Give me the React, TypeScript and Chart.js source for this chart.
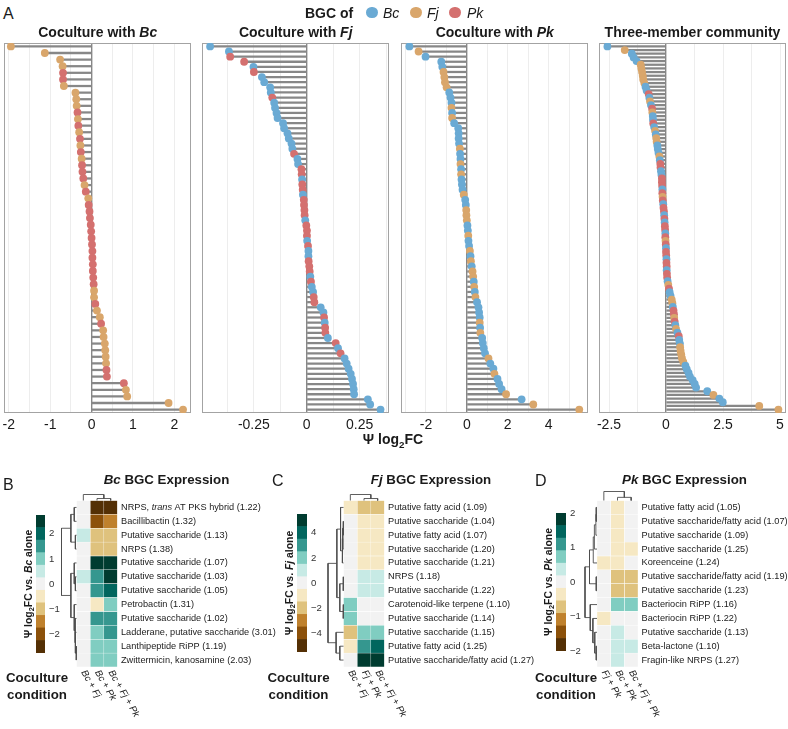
import React, { useEffect, useRef } from 'react';
import { Chart, registerables } from 'chart.js';

Chart.register(...registerables);

const FONT = "'Liberation Sans', Arial, Helvetica, sans-serif";
const INK = '#1a1a1a';
const SPECIES_COLORS: Record<string, string> = { B: '#6aaad4', F: '#d9a66b', P: '#d4706f' };
const BRBG = ['#543005', '#8c510a', '#bf812d', '#dfc27d', '#f6e8c3', '#f2f2f2', '#c7eae5', '#80cdc1', '#35978f', '#01665e', '#003c30'];

// ---------------- Panel A data (sorted rows, top to bottom) ----------------
const BC_VALUES = [
  -1.95, -1.13, -0.76, -0.70, -0.69, -0.69, -0.67, -0.39, -0.37, -0.36,
  -0.34, -0.33, -0.32, -0.30, -0.28, -0.27, -0.26, -0.24, -0.23, -0.22,
  -0.20, -0.17, -0.14, -0.08, -0.07, -0.05, -0.04, -0.02, -0.01, 0.00,
  0.01, 0.02, 0.02, 0.03, 0.03, 0.04, 0.05, 0.06, 0.06, 0.09,
  0.13, 0.20, 0.23, 0.28, 0.29, 0.32, 0.33, 0.34, 0.35, 0.36,
  0.37, 0.78, 0.83, 0.86, 1.86, 2.21,
];
const BC_SPECIES = ('FFFFPPFFFF' + 'PFPFPFPFPP' + 'PFPFPPPPPP' + 'PPPPPPPFFP' + 'FFPFFFFFFP' + 'PPFFFF').split('');

const FJ_VALUES = [
  -0.457, -0.368, -0.362, -0.296, -0.252, -0.250, -0.212, -0.201, -0.173, -0.170,
  -0.163, -0.154, -0.150, -0.143, -0.138, -0.112, -0.107, -0.091, -0.085, -0.072,
  -0.068, -0.060, -0.044, -0.041, -0.025, -0.024, -0.022, -0.021, -0.019, -0.018,
  -0.014, -0.013, -0.011, -0.010, -0.007, -0.002, 0.001, 0.001, 0.002, 0.006,
  0.008, 0.008, 0.009, 0.012, 0.014, 0.017, 0.020, 0.024, 0.030, 0.033,
  0.036, 0.066, 0.079, 0.082, 0.085, 0.087, 0.088, 0.100, 0.137, 0.148,
  0.160, 0.179, 0.189, 0.198, 0.208, 0.214, 0.219, 0.222, 0.224, 0.289,
  0.300, 0.349,
];
const FJ_SPECIES = ('BBPPBPBBBB' + 'PBBBBBBBBB' + 'BPBBPPBPPB' + 'PPPPBPPPBP' + 'BBPPPBPBBP' + 'PBBPBPPBPB' + 'PBBBBBBBBB' + 'BB').split('');

const PK_VALUES = [
  -2.81, -2.36, -2.02, -1.25, -1.20, -1.14, -1.10, -1.07, -0.99, -0.86,
  -0.80, -0.75, -0.75, -0.72, -0.72, -0.62, -0.42, -0.40, -0.40, -0.38,
  -0.34, -0.33, -0.31, -0.31, -0.28, -0.28, -0.26, -0.24, -0.21, -0.15,
  -0.08, -0.05, -0.03, -0.02, 0.00, 0.03, 0.05, 0.07, 0.08, 0.11,
  0.15, 0.18, 0.20, 0.24, 0.28, 0.31, 0.34, 0.36, 0.39, 0.42,
  0.50, 0.57, 0.60, 0.63, 0.63, 0.65, 0.66, 0.75, 0.78, 0.83,
  0.89, 1.06, 1.15, 1.30, 1.35, 1.50, 1.58, 1.70, 1.92, 2.68,
  3.25, 5.50,
];
const PK_SPECIES = ('BFBBBFFFFB' + 'BBFBFBBBBB' + 'FBBFBFBBBF' + 'BBFFFBBFBB' + 'FBFBFFBFBF' + 'BBBBFBFBBB' + 'BFBBFBBBFB' + 'FF').split('');

const TRI_VALUES = [
  -2.57, -1.81, -1.50, -1.42, -1.29, -1.11, -1.08, -1.05, -1.02, -1.00,
  -0.95, -0.90, -0.85, -0.76, -0.73, -0.70, -0.66, -0.61, -0.60, -0.58,
  -0.57, -0.56, -0.52, -0.48, -0.45, -0.43, -0.41, -0.38, -0.36, -0.33,
  -0.29, -0.27, -0.25, -0.24, -0.22, -0.20, -0.18, -0.18, -0.17, -0.16,
  -0.16, -0.15, -0.14, -0.12, -0.11, -0.09, -0.08, -0.07, -0.06, -0.05,
  -0.04, -0.03, -0.03, -0.02, -0.01, 0.00, 0.00, 0.01, 0.02, 0.02,
  0.03, 0.03, 0.04, 0.05, 0.07, 0.10, 0.13, 0.16, 0.20, 0.25,
  0.28, 0.30, 0.33, 0.35, 0.36, 0.38, 0.41, 0.44, 0.50, 0.56,
  0.58, 0.61, 0.62, 0.64, 0.67, 0.70, 0.76, 0.85, 0.91, 0.99,
  1.05, 1.17, 1.26, 1.32, 1.81, 2.08, 2.34, 2.49, 4.09, 4.93,
];
const TRI_SPECIES = ('BFBBBFFFFF' + 'FBBPBFBPFB' + 'BPBFBFFBBB' + 'FBPPBBPPPB' + 'PFPBPPBPBP' + 'PBPFPBPPBP' + 'PBPPBFPBBF' + 'FBPPFPBFBP' + 'BBFFFFFBBB' + 'BBBBBFBBFF').split('');

// ---------------- Panels B-D data ----------------
const B_ROWS = [
  'NRPS, *trans* AT PKS hybrid (1.22)', 'Bacillibactin (1.32)', 'Putative saccharide (1.13)', 'NRPS (1.38)',
  'Putative saccharide (1.07)', 'Putative saccharide (1.03)', 'Putative saccharide (1.05)', 'Petrobactin (1.31)',
  'Putative saccharide (1.02)', 'Ladderane, putative saccharide (3.01)', 'Lanthipeptide RiPP (1.19)', 'Zwittermicin, kanosamine (2.03)',
];
const B_COLS = ['*Bc* + *Fj*', '*Bc* + *Pk*', '*Bc* + *Fj* + *Pk*'];
const B_VALUES = [
  [0, -2.5, -2.5], [0, -2.0, -1.5], [0.5, -1.0, -1.0], [0, -1.0, -1.0],
  [0, 2.5, 2.5], [0.5, 1.5, 2.5], [0, 1.5, 2.0], [0, -0.5, 1.0],
  [0, 1.5, 1.5], [0, 1.0, 1.5], [0, 1.0, 1.0], [0, 1.0, 1.0],
];
const B_ROW_MERGES = [[-3, -4, 0.3], [-1, -2, 0.6], [2, 1, 1.5], [-6, -7, 0.3], [-5, 4, 0.6], [-11, -12, 0.1], [-10, 6, 0.3], [-9, 7, 0.4], [-8, 8, 0.6], [5, 9, 1.5], [3, 10, 4]];
const B_COL_MERGES = [[-2, -3, 0.33], [-1, 1, 1]];
const B_RANGE = [-2.75, 2.75];
const B_TICKS = [2, 1, 0, -1, -2];

const C_ROWS = [
  'Putative fatty acid (1.09)', 'Putative saccharide (1.04)', 'Putative fatty acid (1.07)', 'Putative saccharide (1.20)',
  'Putative saccharide (1.21)', 'NRPS (1.18)', 'Putative saccharide (1.22)', 'Carotenoid-like terpene (1.10)',
  'Putative saccharide (1.14)', 'Putative saccharide (1.15)', 'Putative fatty acid (1.25)', 'Putative saccharide/fatty acid (1.27)',
];
const C_COLS = ['*Bc* + *Fj*', '*Fj* + *Pk*', '*Bc* + *Fj* + *Pk*'];
const C_VALUES = [
  [-1, -2, -2], [0, -1, -1], [0, -1, -1], [0, -1, -1],
  [0, -1, -1], [0, 1, 1], [0, 1, 1], [2, 0, 0],
  [2, 0, 0], [-2, 2, 2], [-1, 3, 4], [0, 5, 5],
];
const C_ROW_MERGES = [[-2, -3, 0.1], [1, -4, 0.2], [2, -5, 0.3], [-1, 3, 0.8], [-6, -7, 0.1], [-8, -9, 0.1], [5, 6, 1.0], [4, 7, 1.8], [-11, -12, 1.0], [-10, 9, 2.0], [8, 10, 4.2]];
const C_COL_MERGES = [[-2, -3, 0.33], [-1, 1, 1]];
const C_RANGE = [-5.5, 5.5];
const C_TICKS = [4, 2, 0, -2, -4];

const D_ROWS = [
  'Putative fatty acid (1.05)', 'Putative saccharide/fatty acid (1.07)', 'Putative saccharide (1.09)', 'Putative saccharide (1.25)',
  'Koreenceine (1.24)', 'Putative saccharide/fatty acid (1.19)', 'Putative saccharide (1.23)', 'Bacteriocin RiPP (1.16)',
  'Bacteriocin RiPP (1.22)', 'Putative saccharide (1.13)', 'Beta-lactone (1.10)', 'Fragin-like NRPS (1.27)',
];
const D_COLS = ['*Fj* + *Pk*', '*Bc* + *Pk*', '*Bc* + *Fj* + *Pk*'];
const D_VALUES = [
  [0, -0.35, 0], [0, -0.35, 0], [0, -0.35, 0], [0, -0.35, -0.35],
  [-0.35, -0.35, 0], [0, -0.7, -0.7], [0, -0.7, -0.7], [0, 0.7, 0.7],
  [-0.35, 0, 0], [0, 0.35, 0], [0, 0.35, 0.35], [0, 0.35, 0],
];
const D_ROW_MERGES = [[-1, -2, 0.1], [-3, 1, 0.15], [-4, 2, 0.35], [-6, -7, 0.1], [-5, 3, 0.5], [5, 4, 1.0], [-11, -12, 0.1], [-10, 7, 0.3], [-9, 8, 0.55], [-8, 9, 0.9], [6, 10, 1.6]];
const D_COL_MERGES = [[-2, -3, 0.35], [-1, 1, 1]];
const D_RANGE = [-2, 2];
const D_TICKS = [2, 1, 0, -1, -2];

// ---------------- helpers ----------------
type Seg = { t: string; i?: boolean; sub?: boolean };
const parseStars = (s: string): Seg[] => s.split('*').map((t, k) => ({ t, i: k % 2 === 1 })).filter((p) => p.t.length > 0);
const fontOf = (seg: Seg, size: number, bold: boolean) =>
  `${seg.i ? 'italic ' : ''}${bold ? 'bold ' : ''}${seg.sub ? size * 0.72 : size}px ${FONT}`;

function drawRich(ctx: CanvasRenderingContext2D, segs: Seg[], x: number, y: number, size: number, bold: boolean, color: string, align: 'left' | 'center') {
  ctx.save();
  ctx.fillStyle = color;
  ctx.textBaseline = 'middle';
  ctx.textAlign = 'left';
  const widths = segs.map((s) => { ctx.font = fontOf(s, size, bold); return ctx.measureText(s.t).width; });
  const total = widths.reduce((a, b) => a + b, 0);
  let cx = align === 'center' ? x - total / 2 : x;
  segs.forEach((s, k) => {
    ctx.font = fontOf(s, size, bold);
    ctx.fillText(s.t, cx, s.sub ? y + size * 0.28 : y);
    cx += widths[k];
  });
  ctx.restore();
}

const binColor = (v: number, range: number[]) => {
  const k = Math.floor(((v - range[0]) / (range[1] - range[0])) * BRBG.length);
  return BRBG[Math.max(0, Math.min(BRBG.length - 1, k))];
};

// dendrogram polylines from hclust-style merges: [height, position] pairs
function dendro(merges: number[][]) {
  const pos: number[] = [];
  const hgt: number[] = [];
  const get = (id: number) => (id < 0 ? { p: -id - 1 + 0.5, h: 0 } : { p: pos[id - 1], h: hgt[id - 1] });
  return merges.map(([a, b, h], k) => {
    const A = get(a), B = get(b);
    pos[k] = (A.p + B.p) / 2;
    hgt[k] = h;
    return [[A.h, A.p], [h, A.p], [h, B.p], [B.h, B.p]];
  });
}

const fmt = (v: number) => String(+v.toFixed(4));
const isZero = (v: any) => typeof v === 'number' && Math.abs(v) < 1e-9;

const framePlugin = {
  id: 'frame',
  beforeDatasetsDraw(chart: any) {
    const { ctx, chartArea: a } = chart;
    ctx.save();
    ctx.strokeStyle = '#a3a3a3';
    ctx.lineWidth = 1;
    ctx.strokeRect(a.left + 0.5, a.top + 0.5, a.right - a.left - 1, a.bottom - a.top - 1);
    ctx.restore();
  },
};

// ---------------- Lollipop chart ----------------
const A_TOP = 43;
const A_BOTTOM = 413;
const AXIS_H = 14 * 1.2 + 2 * 4;

function Lollipop(p: any) {
  const ref = useRef<HTMLCanvasElement>(null);
  const box = { x: p.left - 8, y: 36, w: p.right - p.left + 16, h: 405 };
  useEffect(() => {
    const n = p.values.length;
    const padPx = 3.4;
    const spacing = (A_BOTTOM - A_TOP - 2 * padPx) / (n - 1);
    const pad = padPx / spacing;
    const pts = p.values.map((v: number, i: number) => ({ x: v, y: i }));
    const grid: number[] = [];
    for (let k = Math.ceil(p.xMin / p.gridStep - 1e-9); k * p.gridStep <= p.xMax + 1e-9; k++) grid.push(+(k * p.gridStep).toFixed(6));
    const chart = new Chart(ref.current as HTMLCanvasElement, {
      type: 'scatter',
      data: {
        datasets: [
          { type: 'scatter', data: pts, pointRadius: 3.9, pointHoverRadius: 3.9, pointBackgroundColor: p.species.map((s: string) => SPECIES_COLORS[s]), pointBorderWidth: 0, pointBorderColor: 'rgba(0,0,0,0)', order: 0 } as any,
          { type: 'bar', data: pts, indexAxis: 'y', backgroundColor: '#878787', barThickness: 1.6, order: 1 } as any,
        ],
      },
      options: {
        animation: false,
        responsive: false,
        events: [],
        layout: { padding: { left: p.left - box.x, right: box.x + box.w - p.right, top: A_TOP - box.y, bottom: box.y + box.h - A_BOTTOM - AXIS_H } },
        plugins: { legend: { display: false }, tooltip: { enabled: false } },
        scales: {
          x: {
            type: 'linear', min: p.xMin, max: p.xMax, offset: false,
            afterBuildTicks: (s: any) => { s.ticks = grid.map((v) => ({ value: v })); },
            ticks: {
              autoSkip: false, maxRotation: 0, padding: 4, color: INK, font: { family: FONT, size: 14 },
              callback: (v: any) => { const q = v / p.labelStep; return Math.abs(q - Math.round(q)) < 1e-6 ? fmt(v) : ''; },
            },
            grid: {
              drawTicks: false,
              color: (c: any) => (isZero(c.tick && c.tick.value) ? '#878787' : '#ebebeb'),
              lineWidth: (c: any) => (isZero(c.tick && c.tick.value) ? 1.4 : 0.9),
            },
            border: { display: false },
          } as any,
          y: { type: 'linear', reverse: true, min: -pad, max: n - 1 + pad, display: false, offset: false } as any,
        },
      } as any,
      plugins: [framePlugin as any],
    });
    return () => chart.destroy();
  }, []);
  return <canvas ref={ref} width={box.w} height={box.h} style={{ position: 'absolute', left: box.x, top: box.y }} />;
}

// ---------------- Heatmap with dendrograms ----------------
function Heatmap(p: any) {
  const ref = useRef<HTMLCanvasElement>(null);
  const g = p.geo;
  const box = g.box;
  useEffect(() => {
    const nR = p.values.length;
    const nC = p.values[0].length;
    const colW = (g.hr - g.hl) / nC;
    const rowH = (g.hb - g.ht) / nR;
    const rowDendW = (g.hl - g.dl) / colW;
    const colDendH = (g.ht - g.dt) / rowH;
    const xMin = -(g.hl - g.dl + 1.5) / colW;
    const yMin = -(g.ht - g.dt + 1.5) / rowH;
    const areaL = g.hl + xMin * colW;
    const areaT = g.ht + yMin * rowH;
    const datasets: any[] = [];
    for (let c = 0; c < nC; c++) {
      datasets.push({
        type: 'bar', indexAxis: 'y', grouped: false, barPercentage: 1, categoryPercentage: 1,
        data: p.values.map((r: number[], i: number) => ({ x: [c, c + 1], y: i + 0.5 })),
        backgroundColor: p.values.map((r: number[]) => binColor(r[c], p.range)),
        borderColor: '#ffffff', borderWidth: 0.5, borderSkipped: false, order: 2,
      });
    }
    const lineDs = (data: any[]) => ({ type: 'line', data, borderColor: '#4d4d4d', borderWidth: 0.9, pointRadius: 0, pointHoverRadius: 0, tension: 0, fill: false, order: 1 });
    const rMax = Math.max(...p.rowMerges.map((m: number[]) => m[2]));
    dendro(p.rowMerges).forEach((seg) => datasets.push(lineDs(seg.map(([h, q]) => ({ x: (-h / rMax) * rowDendW, y: q })))));
    const cMax = Math.max(...p.colMerges.map((m: number[]) => m[2]));
    dendro(p.colMerges).forEach((seg) => datasets.push(lineDs(seg.map(([h, q]) => ({ x: q, y: (-h / cMax) * colDendH })))));
    const rowSegs = p.rows.map(parseStars);
    const colSegs = p.cols.map(parseStars);
    const labels = {
      id: 'heatLabels',
      afterDraw(chart: any) {
        const ctx = chart.ctx;
        const xs = chart.scales.x, ys = chart.scales.y;
        rowSegs.forEach((segs: Seg[], i: number) => drawRich(ctx, segs, xs.getPixelForValue(nC) + 3.5, ys.getPixelForValue(i + 0.5), 9.2, false, INK, 'left'));
        colSegs.forEach((segs: Seg[], c: number) => {
          ctx.save();
          ctx.translate(xs.getPixelForValue(c + 0.5), ys.getPixelForValue(nR) + 4);
          ctx.rotate(Math.PI / 3);
          drawRich(ctx, segs, 0, 0, 9.6, false, INK, 'left');
          ctx.restore();
        });
      },
    };
    const chart = new Chart(ref.current as HTMLCanvasElement, {
      type: 'scatter',
      data: { datasets },
      options: {
        animation: false,
        responsive: false,
        events: [],
        layout: { padding: { left: areaL - box.x, top: areaT - box.y, right: box.x + box.w - g.hr, bottom: box.y + box.h - g.hb } },
        plugins: { legend: { display: false }, tooltip: { enabled: false } },
        scales: {
          x: { type: 'linear', min: xMin, max: nC, display: false, offset: false } as any,
          y: {
            type: 'linear', reverse: true, min: yMin, max: nR, display: false, offset: false,
            afterBuildTicks: (s: any) => { s.ticks = p.values.map((r: any, i: number) => ({ value: i + 0.5 })); },
          } as any,
        },
      } as any,
      plugins: [labels as any],
    });
    return () => chart.destroy();
  }, []);
  return <canvas ref={ref} width={box.w} height={box.h} style={{ position: 'absolute', left: box.x, top: box.y }} />;
}

// ---------------- Colour bar legend ----------------
function ColorBar(p: any) {
  const ref = useRef<HTMLCanvasElement>(null);
  const a = p.area;
  const box = p.box;
  useEffect(() => {
    const [lo, hi] = p.range;
    const w = (hi - lo) / BRBG.length;
    const datasets = BRBG.map((col, k) => ({
      type: 'bar', data: [[lo + k * w, lo + (k + 1) * w]], backgroundColor: col, grouped: false,
      barPercentage: 1, categoryPercentage: 1, borderWidth: 0,
    }));
    const deco = {
      id: 'cbDeco',
      afterDraw(chart: any) {
        const ctx = chart.ctx;
        const ys = chart.scales.y;
        const ca = chart.chartArea;
        p.ticks.forEach((v: number) => {
          drawRich(ctx, [{ t: v < 0 ? '\u2212' + Math.abs(v) : String(v) }], ca.right + 4, ys.getPixelForValue(v), 9.6, false, '#333333', 'left');
        });
        ctx.save();
        ctx.translate(ca.left - 6.5, (ca.top + ca.bottom) / 2);
        ctx.rotate(-Math.PI / 2);
        drawRich(ctx, p.title, 0, 0, 10.4, true, INK, 'center');
        ctx.restore();
      },
    };
    const chart = new Chart(ref.current as HTMLCanvasElement, {
      type: 'bar',
      data: { labels: [''], datasets: datasets as any },
      options: {
        animation: false,
        responsive: false,
        events: [],
        layout: { padding: { left: a.l - box.x, right: box.x + box.w - a.r, top: a.t - box.y, bottom: box.y + box.h - a.b } },
        plugins: { legend: { display: false }, tooltip: { enabled: false } },
        scales: {
          x: { display: false } as any,
          y: { type: 'linear', min: lo, max: hi, display: false } as any,
        },
      } as any,
      plugins: [deco as any],
    });
    return () => chart.destroy();
  }, []);
  return <canvas ref={ref} width={box.w} height={box.h} style={{ position: 'absolute', left: box.x, top: box.y }} />;
}

// ---------------- HTML text ----------------
function Txt({ x, y, size = 14, bold = false, anchor = 'left', children }: any) {
  const tx = anchor === 'center' ? '-50%' : anchor === 'right' ? '-100%' : '0';
  return (
    <div style={{ position: 'absolute', left: x, top: y, transform: `translate(${tx}, -50%)`, font: `${bold ? 'bold ' : ''}${size}px ${FONT}`, lineHeight: 1, whiteSpace: 'nowrap', color: INK }}>
      {children}
    </div>
  );
}

function Dot({ cx, cy, r, color }: any) {
  return <div style={{ position: 'absolute', left: cx - r, top: cy - r, width: 2 * r, height: 2 * r, borderRadius: '50%', background: color }} />;
}

const cbTitle = (sp: string): Seg[] => [{ t: '\u03A8 log' }, { t: '2', sub: true }, { t: 'FC vs. ' }, { t: sp, i: true }, { t: ' alone' }];

export default function App() {
  useEffect(() => { document.body.style.margin = '0'; }, []);
  return (
    <div style={{ position: 'fixed', left: 0, top: 0, width: 788, height: 729, background: '#ffffff', overflow: 'hidden' }}>
      <Lollipop values={BC_VALUES} species={BC_SPECIES} xMin={-2.116} xMax={2.402} gridStep={0.5} labelStep={1} left={4} right={191.5} />
      <Lollipop values={FJ_VALUES} species={FJ_SPECIES} xMin={-0.4953} xMax={0.389} gridStep={0.125} labelStep={0.25} left={202} right={389.5} />
      <Lollipop values={PK_VALUES} species={PK_SPECIES} xMin={-3.22} xMax={5.927} gridStep={1} labelStep={2} left={401} right={588.5} />
      <Lollipop values={TRI_VALUES} species={TRI_SPECIES} xMin={-2.939} xMax={5.263} gridStep={1.25} labelStep={2.5} left={599} right={786} />

      <Heatmap rows={B_ROWS} cols={B_COLS} values={B_VALUES} rowMerges={B_ROW_MERGES} colMerges={B_COL_MERGES} range={B_RANGE}
        geo={{ hl: 76.5, hr: 117.5, ht: 500.5, hb: 667, dl: 61.5, dt: 494.5, box: { x: 50, y: 486, w: 235, h: 243 } }} />
      <Heatmap rows={C_ROWS} cols={C_COLS} values={C_VALUES} rowMerges={C_ROW_MERGES} colMerges={C_COL_MERGES} range={C_RANGE}
        geo={{ hl: 343.5, hr: 384.5, ht: 500.5, hb: 667, dl: 328, dt: 494.5, box: { x: 315, y: 486, w: 225, h: 243 } }} />
      <Heatmap rows={D_ROWS} cols={D_COLS} values={D_VALUES} rowMerges={D_ROW_MERGES} colMerges={D_COL_MERGES} range={D_RANGE}
        geo={{ hl: 597, hr: 638, ht: 500.5, hb: 667, dl: 585, dt: 491.5, box: { x: 575, y: 486, w: 213, h: 243 } }} />

      <ColorBar range={B_RANGE} ticks={B_TICKS} title={cbTitle('Bc')} area={{ l: 36, r: 45, t: 515, b: 653 }} box={{ x: 15, y: 505, w: 60, h: 160 }} />
      <ColorBar range={C_RANGE} ticks={C_TICKS} title={cbTitle('Fj')} area={{ l: 297, r: 307, t: 514, b: 652 }} box={{ x: 277, y: 505, w: 60, h: 160 }} />
      <ColorBar range={D_RANGE} ticks={D_TICKS} title={cbTitle('Pk')} area={{ l: 556, r: 566, t: 513, b: 651 }} box={{ x: 536, y: 505, w: 48, h: 160 }} />

      {/* Panel A texts */}
      <Txt x={3} y={14} size={16}>A</Txt>
      <Txt x={305} y={12.5} bold>BGC of</Txt>
      <Dot cx={372} cy={12.5} r={5.8} color={SPECIES_COLORS.B} />
      <Txt x={383} y={12.5}><i>Bc</i></Txt>
      <Dot cx={416} cy={12.5} r={5.8} color={SPECIES_COLORS.F} />
      <Txt x={427} y={12.5}><i>Fj</i></Txt>
      <Dot cx={455} cy={12.5} r={5.8} color={SPECIES_COLORS.P} />
      <Txt x={467} y={12.5}><i>Pk</i></Txt>
      <Txt x={97.75} y={32} bold anchor="center">Coculture with <i>Bc</i></Txt>
      <Txt x={295.75} y={32} bold anchor="center">Coculture with <i>Fj</i></Txt>
      <Txt x={494.75} y={32} bold anchor="center">Coculture with <i>Pk</i></Txt>
      <Txt x={692.5} y={32} bold anchor="center">Three-member community</Txt>
      <Txt x={393} y={441} bold anchor="center">{'\u03A8'} log<sub style={{ fontSize: '70%' }}>2</sub>FC</Txt>

      {/* Panels B-D texts */}
      <Txt x={3} y={485} size={16}>B</Txt>
      <Txt x={272} y={481} size={16}>C</Txt>
      <Txt x={535} y={481} size={16}>D</Txt>
      <Txt x={166.5} y={479.5} size={13.3} bold anchor="center"><i>Bc</i> BGC Expression</Txt>
      <Txt x={431} y={479.5} size={13.3} bold anchor="center"><i>Fj</i> BGC Expression</Txt>
      <Txt x={684.5} y={479.5} size={13.3} bold anchor="center"><i>Pk</i> BGC Expression</Txt>
      {[37, 298.5, 566].map((cx) => (
        <React.Fragment key={cx}>
          <Txt x={cx} y={678} size={13.3} bold anchor="center">Coculture</Txt>
          <Txt x={cx} y={695} size={13.3} bold anchor="center">condition</Txt>
        </React.Fragment>
      ))}
    </div>
  );
}
